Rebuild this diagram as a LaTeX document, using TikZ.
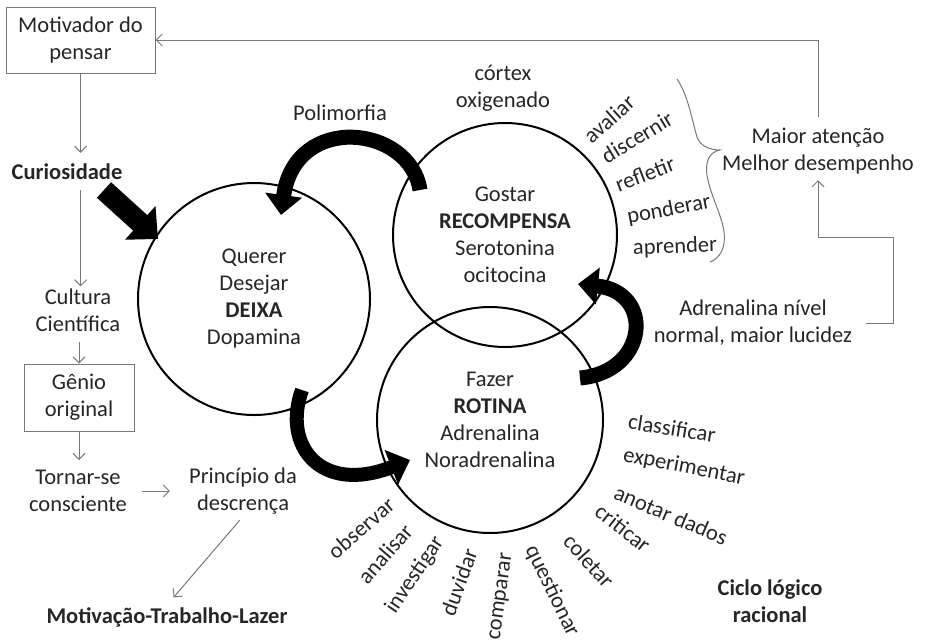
\documentclass[tikz,border=0pt]{standalone}
\usepackage{fontspec}
\setmainfont{Carlito}
\usetikzlibrary{arrows.meta,calc}

\definecolor{linegray}{RGB}{120,120,120}
\definecolor{ink}{RGB}{38,38,38}

\begin{document}
\begin{tikzpicture}[x=1pt,y=-1pt,
  every node/.style={font=\fontsize{22.5}{27}\selectfont, text=ink, inner sep=2pt},
  lbl/.style={align=center},
  box/.style={draw=linegray, line width=1pt, align=center, inner sep=0pt},
  cyc/.style={circle, draw=black, line width=2pt, inner sep=0pt, align=center},
  conn/.style={draw=linegray, line width=1pt, -{Straight Barb[length=6pt,width=12pt]}},
  flow/.style={draw=black, line width=15pt, -{Triangle[length=20pt,width=36pt]}},
  word/.style={inner sep=0pt},
]
\fill[white] (0,0) rectangle (925,643);
\useasboundingbox (0,0) rectangle (925,643);

% left column: from the motivator down to the work-leisure chain
\node[box, minimum width=149pt, minimum height=66pt] (motiv) at (80.5,40) {Motivador do\\pensar};
\node[lbl] (curio) at (67,172) {\textbf{Curiosidade}};
\node[lbl] (cult) at (78,310) {Cultura\\Científica};
\node[box, minimum width=110pt, minimum height=67pt] (genio) at (79,397.5) {Gênio\\original};
\node[lbl] (tornar) at (78,491) {Tornar-se\\consciente};
\node[lbl] (princ) at (243,491) {Princípio da\\descrença};
\node[lbl] (mtl) at (167,617) {\textbf{Motivação-Trabalho-Lazer}};

\draw[conn, shorten >=9pt] (motiv.south) -- (motiv.south |- curio.north);
\draw[conn, shorten <=8pt] (motiv.south |- curio.south) -- (motiv.south |- cult.north);
\draw[conn, shorten <=8pt] (genio.north |- cult.south) -- (genio.north);
\draw[conn, shorten >=8pt] (genio.south) -- (genio.south |- tornar.north);
\draw[conn, shorten <=13pt, shorten >=17pt] (tornar.east) -- (princ.west);
\draw[conn, shorten <=5pt, shorten >=10pt] (princ.south) -- (mtl.north);

% the three cycles
\node[cyc, minimum size=232pt] (deixa) at (254,299) {Querer\\Desejar\\\textbf{DEIXA}\\Dopamina};
\node[cyc, minimum size=224pt] (recomp) at (505,235) {Gostar\\\textbf{RECOMPENSA}\\Serotonina\\ocitocina};
\node[cyc, minimum size=226pt] (rotina) at (490,420) {Fazer\\\textbf{ROTINA}\\Adrenalina\\Noradrenalina};

\node[lbl] (poli) at (340,113) {Polimorfia};
\node[lbl] (cortex) at (503,88) {córtex\\oxigenado};

% heavy arrows linking the cycles
\coordinate (curTail) at (104,190);
\coordinate (curTip) at (158,239);
\draw[flow, line width=21pt, -{Triangle[length=24pt,width=44pt]}] (curTail) -- (curTip);

\coordinate (polyTail) at (420,190);
\coordinate (polyTip) at (281,215);
\draw[flow] (polyTail) .. controls (410,125) and (295,112) .. (polyTip);

\coordinate (dopTail) at (302,390);
\coordinate (dopTip) at (410,460);
\draw[flow, line width=14pt] (dopTail) .. controls (282,445) and (320,495) .. (dopTip);

\coordinate (rotTail) at (580,378);
\coordinate (rotTip) at (578,284);
\draw[flow] (rotTail) .. controls (648,372) and (655,292) .. (rotTip);

% words around the reward cycle
\node[word, rotate=42] (w1) at (609,119) {avaliar};
\node[word, rotate=31] (w2) at (637,137) {discernir};
\node[word, rotate=21] (w3) at (645,174) {refletir};
\node[word, rotate=11] (w4) at (669,210) {ponderar};
\node[word, rotate=2] (w5) at (675,247) {aprender};

% brace gathering them
\draw[linegray, line width=1pt] (677,79) .. controls (688,95) and (692,120) .. (697,137)
  .. controls (700,146) and (710,150) .. (720,150)
  .. controls (710,152) and (705,160) .. (707,175)
  .. controls (710,195) and (722,215) .. (724,232)
  .. controls (726,248) and (720,258) .. (710,262);

\node[lbl] (maior) at (818,151) {Maior atenção\\Melhor desempenho};
\node[lbl] (adren) at (753,323) {Adrenalina nível\\normal, maior lucidez};

\draw[conn, shorten <=9pt] (maior.north) |- (motiv.east);
\coordinate (fbR) at (893,237);
\draw[conn, shorten <=12pt, shorten >=4pt] (adren.east) -| (fbR) -- (fbR -| maior.south) -- (maior.south);

% words around the routine cycle
\node[word, rotate=41] (b1) at (361,528) {observar};
\node[word, rotate=49] (b2) at (385,554) {analisar};
\node[word, rotate=56] (b3) at (415,575) {investigar};
\node[word, rotate=70] (b4) at (459,582) {duvidar};
\node[word, rotate=82] (b5) at (502,597) {comparar};
\node[word, rotate=-64] (b6) at (552,591) {questionar};
\node[word, rotate=-48] (b7) at (589,561) {coletar};
\node[word, rotate=-38] (b8) at (623,528) {criticar};
\node[word, rotate=-23] (b9) at (671,515) {anotar dados};
\node[word, rotate=-11] (b10) at (684,467) {experimentar};
\node[word, rotate=-9] (b11) at (672,428) {classificar};

\node[lbl] (ciclo) at (770,601) {\textbf{Ciclo lógico}\\\textbf{racional}};
\end{tikzpicture}
\end{document}
